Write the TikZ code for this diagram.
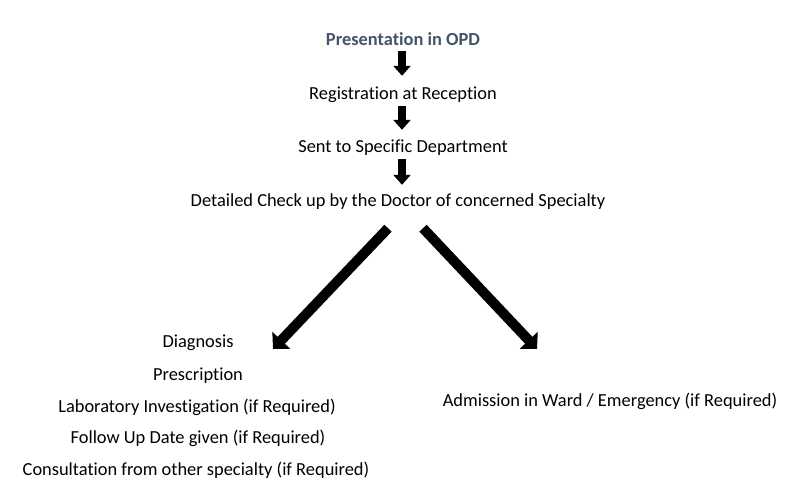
\documentclass[tikz,border=0pt]{standalone}
\usepackage{fontspec}
\setmainfont{Carlito}[Ligatures=NoCommon, RawFeature={-liga;-clig;-calt}]
\usetikzlibrary{arrows.meta}
\definecolor{titleblue}{RGB}{68,84,106}
\begin{document}
\begin{tikzpicture}[x=1pt, y=-1pt,
        stepnode/.style={anchor=base, inner sep=0pt, text height=12pt, text depth=4pt, font=\fontsize{18.4}{21}\selectfont},
        title/.style={stepnode, font=\fontsize{18.4}{21}\selectfont\bfseries, text=titleblue},
        downarrow/.style={line width=8pt, -{Triangle[width=17pt,length=10pt]}},
        diagarrow/.style={line width=10pt, -{Triangle[width=24pt,length=12pt]}}
    ]
    \useasboundingbox (0,0) rectangle (800,502);

    \node[title] (opd) at (403,46) {Presentation in OPD};
    \node[stepnode] (reg) at (403,100) {Registration at Reception};
    \node[stepnode] (dept) at (403,153) {Sent to Specific Department};
    \node[stepnode] (check) at (398,207) {Detailed Check up by the Doctor of concerned Specialty};

    \node[stepnode] (diag) at (198,348) {Diagnosis};
    \node[stepnode] (presc) at (198,380) {Prescription};
    \node[stepnode] (lab) at (197,412) {Laboratory Investigation (if Required)};
    \node[stepnode] (follow) at (198,443) {Follow Up Date given (if Required)};
    \node[stepnode] (consult) at (196,475) {Consultation from other specialty (if Required)};
    \node[stepnode] (admit) at (610,406) {Admission in Ward / Emergency (if Required)};

    \coordinate (lefttip) at (273,349);
    \coordinate (righttip) at (537,349);

    \draw[downarrow, shorten <=1pt, shorten >=12pt] ([xshift=-1pt]opd.south) -- ([xshift=-1pt]opd.south |- reg.north);
    \draw[downarrow, shorten <=2pt, shorten >=11pt] ([xshift=-1pt]reg.south) -- ([xshift=-1pt]reg.south |- dept.north);
    \draw[downarrow, shorten <=2pt, shorten >=10pt] ([xshift=-1pt]dept.south) -- ([xshift=-1pt]dept.south |- check.north);

    \draw[diagarrow] ([shift={(-10,17)}]check.south) -- (lefttip);
    \draw[diagarrow] ([shift={(25,17)}]check.south) -- (righttip);

\end{tikzpicture}
\end{document}
